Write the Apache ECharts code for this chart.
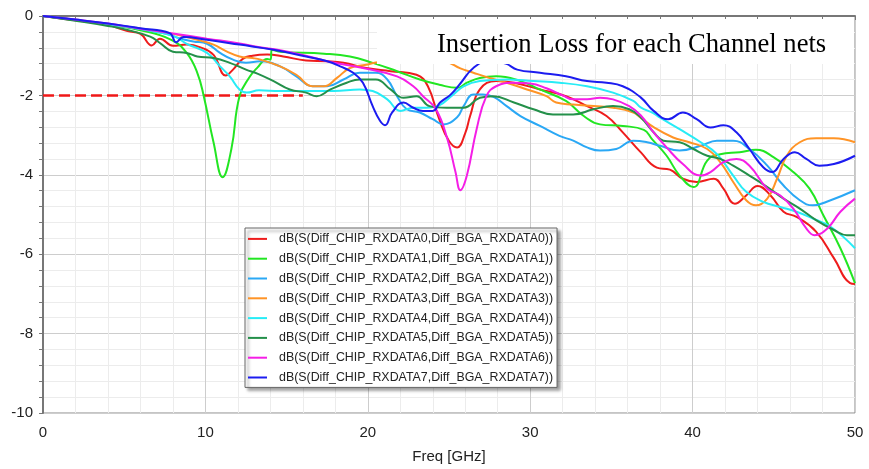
<!DOCTYPE html>
<html>
<head>
<meta charset="utf-8">
<title>Insertion Loss</title>
<script src="https://cdn.jsdelivr.net/npm/echarts@6/dist/echarts.min.js"></script>
<style>
    html, body { margin: 0; padding: 0; background: #fff; }
    #main { width: 869px; height: 469px; }
</style>
</head>
<body>
<div id="main"></div>
<script>
/************************************************************************************/
// data: [freq GHz, dB]
/************************************************************************************/
var rx0 = [[0,0],[2,-0.11],[4,-0.23],[5.2,-0.38],[6,-0.45],[6.7,-0.74],[7.2,-0.57],[8,-0.75],[8.85,-0.72],[9.7,-0.79],
    [10.5,-0.98],[11.25,-1.5],[11.7,-1.35],[12.3,-1.08],[12.9,-1.0],[13.8,-0.97],[14.8,-1.02],[16.2,-1.12],[17.5,-1.14],
    [18.5,-1.18],[19.9,-1.31],[21.4,-1.39],[23,-1.48],[23.7,-1.77],[24.4,-2.6],[25,-3.15],[25.5,-3.31],[26,-2.95],
    [26.3,-2.52],[26.9,-1.85],[27.9,-1.64],[29,-1.68],[30.6,-1.85],[32.2,-2.02],[33.5,-2.27],[34.7,-2.52],[35.7,-2.93],
    [36.8,-3.43],[37.8,-3.82],[38.6,-3.87],[39.4,-4.1],[40.25,-4.18],[41.3,-4.1],[41.9,-4.35],[42.6,-4.73],[43.3,-4.52],
    [44,-4.28],[44.8,-4.52],[45.6,-4.93],[46.4,-5.06],[47.6,-5.43],[48.7,-6.1],[49.7,-6.73],[50,-6.75]];
var rx1 = [[0,0],[2,-0.1],[4,-0.22],[6,-0.36],[7.9,-0.6],[8.85,-0.93],[9.5,-1.43],[9.9,-2.02],[10.5,-3.18],[11.06,-4.06],
    [11.6,-3.35],[12.1,-2.02],[12.75,-1.52],[13.2,-1.3],[13.8,-1.08],[14,-1.1],[14.1,-0.85],[14.6,-0.9],[17.3,-0.95],
    [18.9,-1.02],[20.3,-1.18],[21.8,-1.39],[23.2,-1.6],[24.4,-1.73],[25.5,-1.81],[26.1,-1.68],[26.9,-1.56],[27.9,-1.52],
    [29.4,-1.64],[30.6,-1.85],[32.2,-2.14],[33.3,-2.52],[34.3,-2.73],[35.7,-2.77],[37,-2.87],[37.5,-3.1],[38.4,-3.52],
    [39.2,-4.02],[40.05,-4.31],[40.9,-3.64],[41.7,-3.48],[42.9,-3.43],[43.9,-3.37],[45,-3.56],[46.2,-3.93],[47.2,-4.35],
    [48.05,-5.02],[49.1,-5.85],[50,-6.73]];
var rx2 = [[0,0],[2,-0.1],[4,-0.21],[6,-0.33],[7.6,-0.45],[8.4,-0.56],[9.25,-0.64],[10.1,-0.7],[10.9,-0.93],[11.7,-1.1],
    [12.5,-1.18],[13.4,-1.14],[14.6,-1.27],[15.6,-1.52],[16.6,-1.77],[17.5,-1.77],[18.5,-1.6],[19.5,-1.43],[20.5,-1.43],
    [21.2,-1.6],[21.8,-2.02],[22.4,-2.35],[23.2,-2.43],[24,-2.6],[24.65,-2.73],[25.5,-2.55],[25.9,-2.27],[26.5,-1.98],
    [27.1,-1.98],[27.8,-2.05],[28.55,-2.27],[29.4,-2.52],[30.6,-2.77],[31.8,-3.02],[32.65,-3.14],[33.5,-3.31],[34.3,-3.39],
    [35.3,-3.35],[36.35,-3.14],[37.2,-3.18],[38,-3.27],[39.2,-3.39],[40.5,-3.27],[41.5,-3.14],[42.5,-3.14],[43.5,-3.35],
    [44.6,-3.77],[45.6,-4.27],[46.6,-4.64],[47.4,-4.77],[48.5,-4.64],[50,-4.39]];
var rx3 = [[0,0],[2,-0.1],[4,-0.2],[6,-0.32],[8,-0.45],[9.7,-0.62],[10.5,-0.72],[11.3,-0.89],[12.1,-1.02],[12.9,-1.06],
    [13.4,-1.1],[14.6,-1.27],[15.6,-1.48],[16.6,-1.77],[17.3,-1.77],[18.1,-1.56],[18.9,-1.31],[19.9,-1.23],[20.5,-1.17],
    [22,-1.12],[23.5,-1.1],[24.8,-1.15],[25.7,-1.32],[26.5,-1.43],[27.5,-1.56],[28.55,-1.68],[29.8,-1.85],[31,-2.02],
    [31.6,-2.18],[32.65,-2.23],[33.9,-2.27],[35.1,-2.31],[36.35,-2.43],[36.8,-2.56],[37.6,-2.8],[38.8,-3.06],[39.8,-3.18],
    [40.9,-3.35],[41.7,-3.68],[42.5,-4.18],[43.3,-4.64],[43.9,-4.77],[44.6,-4.6],[45.2,-4.1],[45.8,-3.52],[46.6,-3.18],
    [47.6,-3.08],[48.7,-3.08],[50,-3.18]];
var rx4 = [[0,0],[2,-0.1],[4,-0.21],[6,-0.33],[8,-0.5],[8.85,-0.7],[10.1,-0.93],[10.9,-1.27],[11.5,-1.52],[12.1,-1.85],
    [12.55,-1.93],[13.3,-1.87],[14.6,-1.89],[16.2,-1.89],[17.9,-1.89],[19.5,-1.85],[20.3,-1.89],[21.2,-2.1],[22,-2.39],
    [22.8,-2.31],[23.6,-2.31],[24.4,-2.25],[25.2,-2.0],[25.9,-1.77],[26.9,-1.64],[28.55,-1.6],[30.2,-1.64],[31.8,-1.68],
    [33.5,-1.77],[35.1,-1.93],[36.35,-2.14],[36.8,-2.3],[37.6,-2.45],[38,-2.56],[39.2,-2.85],[40.5,-3.18],[41.5,-3.48],
    [42.5,-4.02],[43.3,-4.43],[44.35,-4.68],[45.4,-4.81],[46.4,-4.93],[47.4,-5.1],[48.5,-5.31],[50,-5.85]];
var rx5 = [[0,0],[2,-0.12],[4,-0.25],[5,-0.33],[6.6,-0.52],[7.2,-0.68],[8,-0.9],[8.85,-0.93],[9.5,-1.02],[10.5,-1.06],
    [11.5,-1.18],[12.5,-1.35],[13.2,-1.45],[14.2,-1.64],[15.2,-1.85],[16.2,-1.93],[16.85,-2.02],[17.7,-1.85],[18.7,-1.68],
    [19.5,-1.6],[20.5,-1.6],[21.4,-1.85],[22.2,-2.06],[23,-2.02],[23.8,-2.27],[24.85,-2.31],[25.9,-2.31],[26.9,-2.06],
    [27.7,-2.02],[29,-2.18],[30.2,-2.35],[31.4,-2.48],[32.65,-2.48],[33.9,-2.35],[35.1,-2.27],[36.1,-2.35],[36.8,-2.55],
    [37.6,-2.93],[38.2,-3.14],[39.2,-3.18],[40.05,-3.35],[40.9,-3.52],[41.7,-3.6],[42.5,-3.77],[43.5,-4.02],[44.6,-4.31],
    [45.6,-4.6],[46.6,-4.85],[47.6,-5.14],[48.7,-5.39],[49.5,-5.52],[50,-5.52]];
var rx6 = [[0,0],[2,-0.09],[4,-0.19],[6,-0.32],[8,-0.44],[10.1,-0.57],[12.1,-0.69],[13.25,-0.78],[14.6,-0.86],[16,-0.98],
    [17.7,-1.16],[19.7,-1.31],[21.8,-1.52],[22.8,-1.77],[23.4,-2.02],[24.2,-2.35],[24.9,-3.1],[25.4,-3.93],[25.7,-4.39],
    [26.1,-4.02],[26.7,-2.85],[27.3,-2.02],[27.9,-1.77],[29,-1.68],[30,-1.7],[31,-1.82],[32,-2.0],[32.65,-2.1],[33.5,-2.1],
    [34.3,-2.06],[35.1,-2.1],[36.1,-2.27],[36.8,-2.5],[37.6,-2.93],[38.4,-3.31],[39.4,-3.73],[40.5,-4.02],[41.1,-3.93],
    [41.9,-3.68],[42.7,-3.6],[43.5,-3.77],[44.6,-4.35],[45.4,-4.52],[46.2,-4.85],[47,-5.35],[47.5,-5.52],[48.3,-5.35],
    [49.1,-4.93],[50,-4.6]];
var rx7 = [[0,0],[2,-0.09],[4,-0.19],[6,-0.31],[7.8,-0.43],[8.2,-0.66],[8.65,-0.53],[10.1,-0.6],[12.1,-0.72],[14.2,-0.85],
    [16.2,-1.02],[17.5,-1.14],[18.3,-1.27],[19.1,-1.43],[19.7,-1.68],[20.3,-2.27],[20.75,-2.64],[21.06,-2.75],[21.5,-2.43],
    [22.2,-2.18],[22.8,-2.31],[23.4,-2.39],[24,-2.39],[24.45,-2.18],[25.1,-1.98],[25.7,-1.7],[26.5,-1.31],[27.5,-1.12],
    [28.5,-1.2],[29.2,-1.35],[30.6,-1.43],[32.2,-1.52],[33.5,-1.64],[34.7,-1.68],[35.7,-1.77],[36.8,-2.05],[37.6,-2.39],
    [38.5,-2.6],[39.4,-2.43],[40.25,-2.6],[41.1,-2.81],[41.9,-2.75],[42.7,-2.93],[43.5,-3.35],[44.35,-3.81],[44.9,-3.93],
    [45.6,-3.6],[46.3,-3.43],[47,-3.6],[47.8,-3.77],[48.7,-3.73],[50,-3.52]];

// -2 dB limit line
var limitLine = [[0,-2],[16,-2]];

var seriesNames = [
    'dB(S(Diff_CHIP_RXDATA0,Diff_BGA_RXDATA0))',
    'dB(S(Diff_CHIP_RXDATA1,Diff_BGA_RXDATA1))',
    'dB(S(Diff_CHIP_RXDATA2,Diff_BGA_RXDATA2))',
    'dB(S(Diff_CHIP_RXDATA3,Diff_BGA_RXDATA3))',
    'dB(S(Diff_CHIP_RXDATA4,Diff_BGA_RXDATA4))',
    'dB(S(Diff_CHIP_RXDATA5,Diff_BGA_RXDATA5))',
    'dB(S(Diff_CHIP_RXDATA6,Diff_BGA_RXDATA6))',
    'dB(S(Diff_CHIP_RXDATA7,Diff_BGA_RXDATA7))'
];
var seriesData = [rx0, rx1, rx2, rx3, rx4, rx5, rx6, rx7];
var seriesColors = ['#ee1c1c', '#22e622', '#2aa8f5', '#ff9426', '#27ecf6', '#24904a', '#f51ee6', '#1c1cf0'];

var chartTitle = 'Insertion Loss for each Channel nets';
var xName = 'Freq [GHz]';

/************************************************************************************/
// build series
/************************************************************************************/
var series = [{
    name: 'limit',
    type: 'line',
    data: limitLine,
    showSymbol: false,
    silent: true,
    lineStyle: { color: '#f01818', width: 2.5, type: [11, 5] },
    z: 1
}];
for (var i = 0; i < seriesData.length; i++) {
    series.push({
        name: seriesNames[i],
        type: 'line',
        data: seriesData[i],
        showSymbol: false,
        smooth: 0.45,
        color: seriesColors[i],
        lineStyle: { width: 2, color: seriesColors[i] },
        z: 2 + i
    });
}

var myChart = echarts.init(document.getElementById('main'));
var option = {
    animation: false,
    backgroundColor: '#fff',
    grid: {
        left: 43, right: 14, top: 16, bottom: 53,
        show: true, borderColor: '#8a8a8a', borderWidth: 1
    },
    xAxis: {
        type: 'value',
        min: 0, max: 50, interval: 10,
        name: xName,
        nameLocation: 'middle',
        nameGap: 36,
        nameTextStyle: { fontFamily: 'Liberation Sans', fontSize: 15, color: '#222' },
        axisLine: { lineStyle: { color: '#777', width: 2 } },
        axisTick: { show: true, length: 4, lineStyle: { color: '#777' } },
        minorTick: { show: true, splitNumber: 5, length: 4, lineStyle: { color: '#777' } },
        axisLabel: { fontFamily: 'Liberation Sans', fontSize: 15, color: '#222', margin: 12 },
        splitLine: { show: true, lineStyle: { color: '#cdcdcd', width: 1 } },
        minorSplitLine: { show: true, lineStyle: { color: '#ececec', width: 1 } }
    },
    yAxis: {
        type: 'value',
        min: -10, max: 0, interval: 2,
        axisLine: { show: true, lineStyle: { color: '#777', width: 2 } },
        axisTick: { show: true, length: 4, lineStyle: { color: '#777' } },
        minorTick: { show: true, splitNumber: 5, length: 4, lineStyle: { color: '#777' } },
        axisLabel: { fontFamily: 'Liberation Sans', fontSize: 15, color: '#222', margin: 10 },
        splitLine: { show: true, lineStyle: { color: '#cdcdcd', width: 1 } },
        minorSplitLine: { show: true, lineStyle: { color: '#ececec', width: 1 } }
    },
    legend: {
        data: seriesNames,
        orient: 'vertical',
        left: 245,
        top: 228,
        selectedMode: false,
        icon: 'rect',
        itemWidth: 19,
        itemHeight: 2,
        itemGap: 0,
        padding: [1, 4, 0, 3],
        backgroundColor: '#fff',
        borderColor: '#666',
        borderWidth: 1,
        shadowColor: 'rgba(0,0,0,0.45)',
        shadowBlur: 3,
        shadowOffsetX: 3,
        shadowOffsetY: 3,
        textStyle: {
            fontFamily: 'Liberation Sans', fontSize: 12.4, color: '#222',
            lineHeight: 19.8, padding: [0, 0, 0, 7]
        }
    },
    graphic: [
        {
            type: 'rect', left: 377, top: 19, z: 100,
            shape: { width: 477, height: 45 },
            style: { fill: '#fff' }
        },
        {
            type: 'text', left: 437, top: 32, z: 101,
            style: { text: chartTitle, font: '26.6px "Liberation Serif"', fill: '#000' }
        }
    ],
    series: series
};
myChart.setOption(option);
</script>
</body>
</html>
